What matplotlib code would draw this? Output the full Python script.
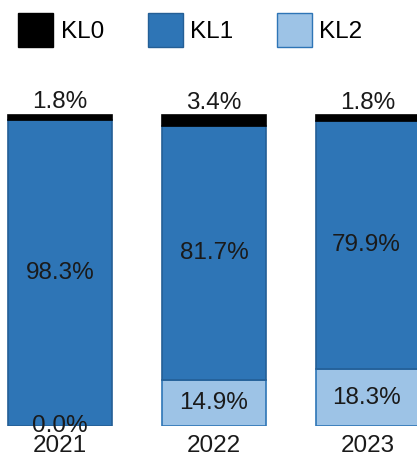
import matplotlib.pyplot as plt
from matplotlib.patches import Patch

years = ['2021', '2022', '2023']
kl2 = [0.0, 14.9, 18.3]
kl1 = [98.3, 81.7, 79.9]
kl0 = [1.8, 3.4, 1.8]

plt.rcParams['font.family'] = ['Liberation Sans', 'DejaVu Sans']

fig = plt.figure(figsize=(4.17, 4.57), dpi=100)
ax = fig.add_axes([0, 31 / 457, 1, 426 / 457])

x = list(range(len(years)))
w = 0.675
fs = 17.5
txt = '#1a1a1a'

b2 = ax.bar(x, kl2, w, color='#9DC3E6', edgecolor='#2E75B6', linewidth=1.2)
b1 = ax.bar(x, kl1, w, bottom=kl2, color='#2E75B6', edgecolor='#245f96', linewidth=1.2)
bot0 = [a + b for a, b in zip(kl2, kl1)]
b0 = ax.bar(x, kl0, w, bottom=bot0, color='black', edgecolor='black', linewidth=1.2)

ax.bar_label(b2, labels=[f'{v:.1f}%' for v in kl2], label_type='center', fontsize=fs, color=txt)
ax.bar_label(b1, labels=[f'{v:.1f}%' for v in kl1], label_type='center', fontsize=fs, color=txt)
ax.bar_label(b0, labels=[f'{v:.1f}%' for v in kl0], label_type='edge', padding=1, fontsize=fs, color=txt)

ax.set_xlim(-60 / 154, 357 / 154)
ax.set_ylim(0, 426 / 3.11)
ax.set_xticks(x)
ax.set_xticklabels(years, fontsize=fs, color=txt)
ax.tick_params(axis='x', length=0, pad=6.5)
ax.set_yticks([])
for s in ax.spines.values():
    s.set_visible(False)

handles = [Patch(facecolor='black', edgecolor='black'),
           Patch(facecolor='#2E75B6', edgecolor='#245f96'),
           Patch(facecolor='#9DC3E6', edgecolor='#2E75B6')]
fig.legend(handles, ['KL0', 'KL1', 'KL2'], loc='upper left', bbox_to_anchor=(18 / 417, 1 - 13 / 457),
           ncol=3, frameon=False, fontsize=fs, handlelength=1.45, handleheight=1.75,
           handletextpad=0.3, columnspacing=1.8, borderpad=0, borderaxespad=0)

fig.savefig('out.png', dpi=100)
